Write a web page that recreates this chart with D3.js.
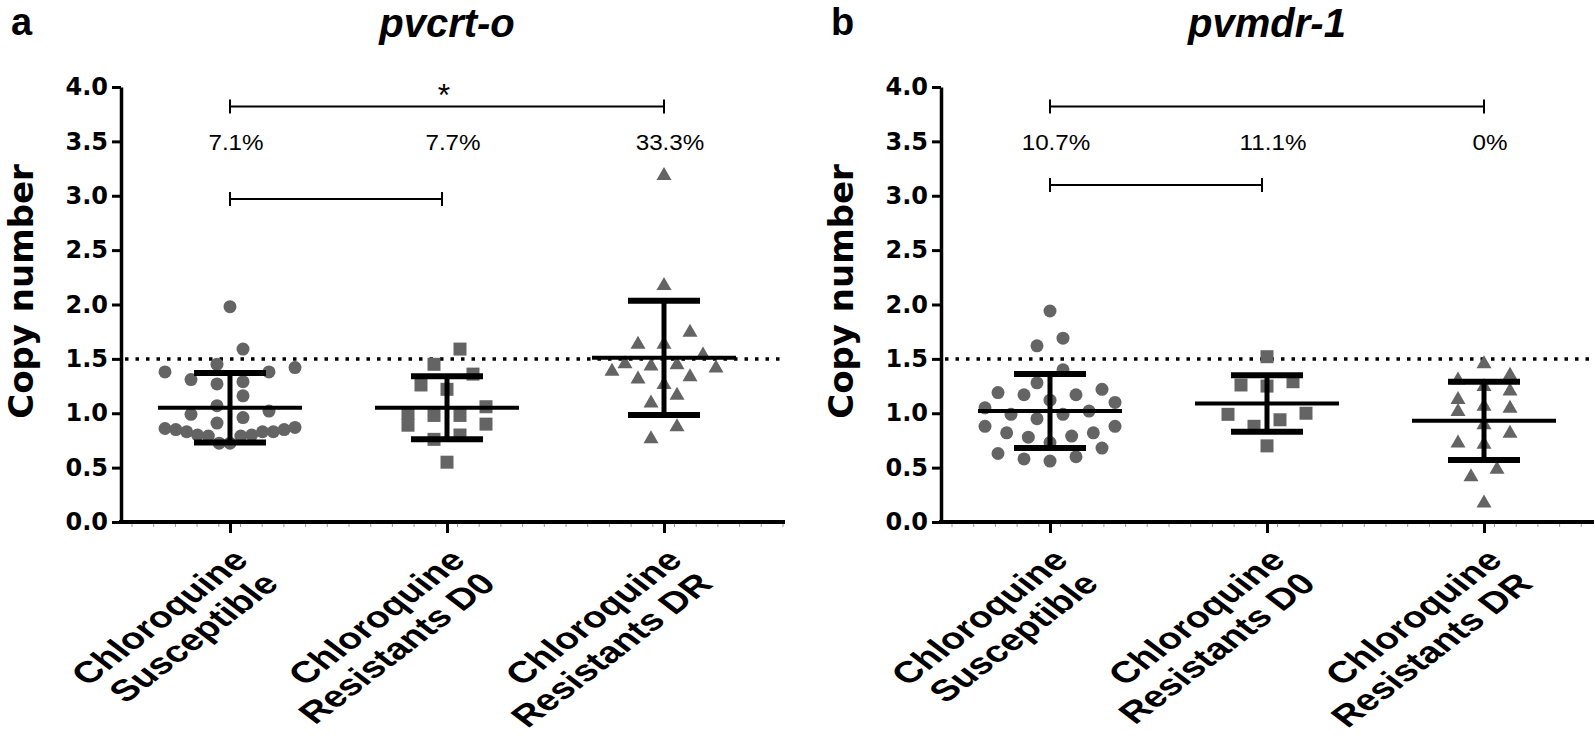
<!DOCTYPE html>
<meta charset="utf-8">
<style>
  body { margin: 0; background: #fff; }
  svg { display: block; font-family: "Liberation Sans", Arial, sans-serif; }
</style>
<svg width="1595" height="742"></svg>
<script src="https://d3js.org/d3.v7.min.js"></script>
<script>

var groups = ["Susceptible", "Resistants D0", "Resistants DR"];
var groupLines = [["Chloroquine", "Susceptible"], ["Chloroquine", "Resistants D0"], ["Chloroquine", "Resistants DR"]];
var yTicks = [0, 0.5, 1, 1.5, 2, 2.5, 3, 3.5, 4];
var cutoff = 1.5;

// pvcrt-o copy numbers
var crtSusceptible = [1.98, 1.59, 1.45, 1.42, 1.38, 1.38, 1.31, 1.29, 1.27, 1.16, 1.07, 1.02, 0.99, 0.96,
  0.91, 0.87, 0.86, 0.85, 0.85, 0.83, 0.83, 0.83, 0.80, 0.80, 0.79, 0.79, 0.725, 0.725];
var crtD0 = [1.59, 1.45, 1.36, 1.26, 1.22, 1.06, 1.00, 0.98, 0.98, 0.90, 0.89, 0.80, 0.76, 0.55];
var crtDR = [3.19, 2.18, 1.75, 1.64, 1.64, 1.54, 1.46, 1.44, 1.45, 1.42, 1.39, 1.32, 1.34, 1.27, 1.17,
  1.10, 0.88, 0.77];
var crtMean = [1.05, 1.05, 1.51];
var crtSd = [0.32, 0.29, 0.525];
var crtPercent = ["7.1%", "7.7%", "33.3%"];
var crtBrackets = [[0, 2, 3.82, "*"], [0, 1, 2.97, ""]];

// pvmdr-1 copy numbers
var mdrSusceptible = [1.94, 1.69, 1.62, 1.40, 1.28, 1.22, 1.19, 1.17, 1.17, 1.12, 1.10, 1.05, 1.02, 0.99,
  0.99, 0.95, 0.88, 0.88, 0.82, 0.82, 0.79, 0.78, 0.73, 0.68, 0.63, 0.60, 0.58, 0.56];
var mdrD0 = [1.52, 1.29, 1.26, 1.25, 1.00, 0.99, 0.94, 0.88, 0.70];
var mdrDR = [1.46, 1.355, 1.31, 1.25, 1.21, 1.13, 1.07, 1.05, 1.02, 0.90, 0.82, 0.73, 0.72, 0.49, 0.42, 0.18];
var mdrMean = [1.02, 1.09, 0.93];
var mdrSd = [0.34, 0.26, 0.36];
var mdrPercent = ["10.7%", "11.1%", "0%"];
var mdrBrackets = [[0, 2, 3.82, ""], [0, 1, 3.10, ""]];

var panels = [
  {letter: "a", title: "pvcrt-o", left: 121, right: 785, series: [crtSusceptible, crtD0, crtDR],
   mean: crtMean, sd: crtSd, percent: crtPercent, brackets: crtBrackets},
  {letter: "b", title: "pvmdr-1", left: 941, right: 1594, series: [mdrSusceptible, mdrD0, mdrDR],
   mean: mdrMean, sd: mdrSd, percent: mdrPercent, brackets: mdrBrackets}
];

var svg = d3.select("svg");
var y = d3.scaleLinear().domain([0, 4]).range([522, 87]);
var grey = "#646464";
var wide = "'DejaVu Sans', Verdana, sans-serif";

panels.forEach(drawPanel);

function drawPanel(p) {
  var g = svg.append("g");
  var x = d3.scalePoint().domain(groups).range([p.left + 109, p.left + 543]);

  g.append("text")
      .attr("x", p.left - 110).attr("y", 35)
      .attr("font-size", 38).attr("font-weight", "bold")
      .text(p.letter);

  g.append("text")
      .attr("x", x(groups[1])).attr("y", 37)
      .attr("text-anchor", "middle")
      .attr("font-size", 40).attr("font-weight", "bold").attr("font-style", "italic")
      .text(p.title);

  g.append("text")
      .attr("transform", "translate(" + (p.left - 88) + "," + y(2.12) + ") rotate(-90)")
      .attr("text-anchor", "middle")
      .attr("font-family", wide)
      .attr("font-size", 34).attr("font-weight", "bold")
      .text("Copy number");

  // cut-off line
  g.append("line")
      .attr("x1", p.left + 4).attr("x2", p.right)
      .attr("y1", y(cutoff)).attr("y2", y(cutoff))
      .attr("stroke", "#000").attr("stroke-width", 3.5)
      .attr("stroke-dasharray", "3.5,7");

  // points
  var shapes = ["circle", "square", "triangle"];
  p.series.forEach(function(values, i) {
    var pts = swarm(values, x(groups[i]));
    g.append("g").selectAll("path")
      .data(pts)
      .join("path")
        .attr("transform", function(d) { return "translate(" + d.x + "," + y(d.v) + ")"; })
        .attr("d", marker(shapes[i]))
        .attr("fill", grey);
  });

  // mean and SD
  p.mean.forEach(function(m, i) {
    var cx = x(groups[i]);
    var s = g.append("g").attr("stroke", "#000");
    s.append("line").attr("x1", cx).attr("x2", cx)
        .attr("y1", y(m + p.sd[i])).attr("y2", y(m - p.sd[i])).attr("stroke-width", 5);
    [m + p.sd[i], m - p.sd[i]].forEach(function(v) {
      s.append("line").attr("x1", cx - 36).attr("x2", cx + 36)
          .attr("y1", y(v)).attr("y2", y(v)).attr("stroke-width", 6);
    });
    s.append("line").attr("x1", cx - 72).attr("x2", cx + 72)
        .attr("y1", y(m)).attr("y2", y(m)).attr("stroke-width", 4);
  });

  // percentages above the cut-off
  g.selectAll(".pct")
    .data(p.percent)
    .join("text")
      .attr("transform", function(d, i) {
        return "translate(" + (x(groups[i]) + 6) + "," + y(3.42) + ") scale(1.1,1)";
      })
      .attr("text-anchor", "middle")
      .attr("font-size", 22)
      .text(function(d) { return d; });

  // comparison brackets
  p.brackets.forEach(function(b) {
    var x1 = x(groups[b[0]]), x2 = x(groups[b[1]]), yy = y(b[2]);
    if (b[1] === 1) x2 -= 5;
    g.append("path")
        .attr("d", "M" + x1 + "," + (yy - 7) + "V" + (yy + 7) + "M" + x1 + "," + yy + "H" + x2 +
          "M" + x2 + "," + (yy - 7) + "V" + (yy + 7))
        .attr("fill", "none").attr("stroke", "#000").attr("stroke-width", 2);
    if (b[3]) {
      g.append("text")
          .attr("x", (x1 + x2) / 2 - 3).attr("y", yy - 1)
          .attr("text-anchor", "middle")
          .attr("font-size", 32)
          .text(b[3]);
    }
  });

  // y axis
  var ya = g.append("g")
      .attr("transform", "translate(" + p.left + ",0)")
      .call(d3.axisLeft(y).tickValues(yTicks).tickFormat(d3.format(".1f")).tickSize(9).tickSizeOuter(0).tickPadding(4));
  ya.select(".domain").attr("stroke-width", 3.5);
  ya.selectAll(".tick line").attr("stroke-width", 3);
  ya.selectAll(".tick text")
      .attr("font-family", wide)
      .attr("font-size", 24).attr("font-weight", "bold").attr("fill", "#000");

  // x axis
  var minor = d3.range(p.left + 11, p.right, 21.7);
  g.append("g").selectAll("line")
    .data(minor)
    .join("line")
      .attr("x1", function(d) { return d; }).attr("x2", function(d) { return d; })
      .attr("y1", y(0)).attr("y2", y(0) + 5)
      .attr("stroke", "#999").attr("stroke-width", 1);
  var xa = g.append("g")
      .attr("transform", "translate(0," + y(0) + ")")
      .call(d3.axisBottom(x).tickSize(11).tickFormat(""));
  xa.select(".domain").remove();
  xa.selectAll(".tick line").attr("stroke-width", 3);
  g.append("line")
      .attr("x1", p.left - 2).attr("x2", p.right)
      .attr("y1", y(0)).attr("y2", y(0))
      .attr("stroke", "#000").attr("stroke-width", 4);

  groupLines.forEach(function(lines, i) {
    var t = g.append("text")
        .attr("transform", "translate(" + (x(groups[i]) + 20) + "," + (y(0) + 40) + ") scale(1.3,1) rotate(-45)")
        .attr("text-anchor", "end")
        .attr("font-size", 30).attr("font-weight", "bold");
    t.selectAll("tspan")
      .data(lines)
      .join("tspan")
        .attr("x", 0)
        .attr("dy", function(d, j) { return j ? "1.1em" : 0; })
        .text(function(d) { return d; });
  });
}

// spread points of similar value side by side, lowest ones in the middle
function swarm(values, cx) {
  var sorted = values.slice().sort(d3.ascending);
  var rows = [], row = null;
  sorted.forEach(function(v) {
    if (!row || y(row[0]) - y(v) > 17) { row = []; rows.push(row); }
    row.push(v);
  });
  var out = [];
  rows.forEach(function(r) {
    var n = r.length;
    var gap = n > 1 ? Math.min(26, 130 / (n - 1)) : 0;
    var slots = d3.range(n).map(function(i) { return i - (n - 1) / 2; })
        .sort(function(a, b) { return Math.abs(a) - Math.abs(b) || a - b; });
    r.forEach(function(v, i) { out.push({v: v, x: cx + slots[i] * gap}); });
  });
  return out;
}

function marker(type) {
  if (type === "circle") return d3.symbol(d3.symbolCircle, Math.PI * 6.5 * 6.5)();
  if (type === "square") return "M-6.5,-6.5H6.5V6.5H-6.5Z";
  return "M0,-8L7.5,5L-7.5,5Z";
}
</script>
